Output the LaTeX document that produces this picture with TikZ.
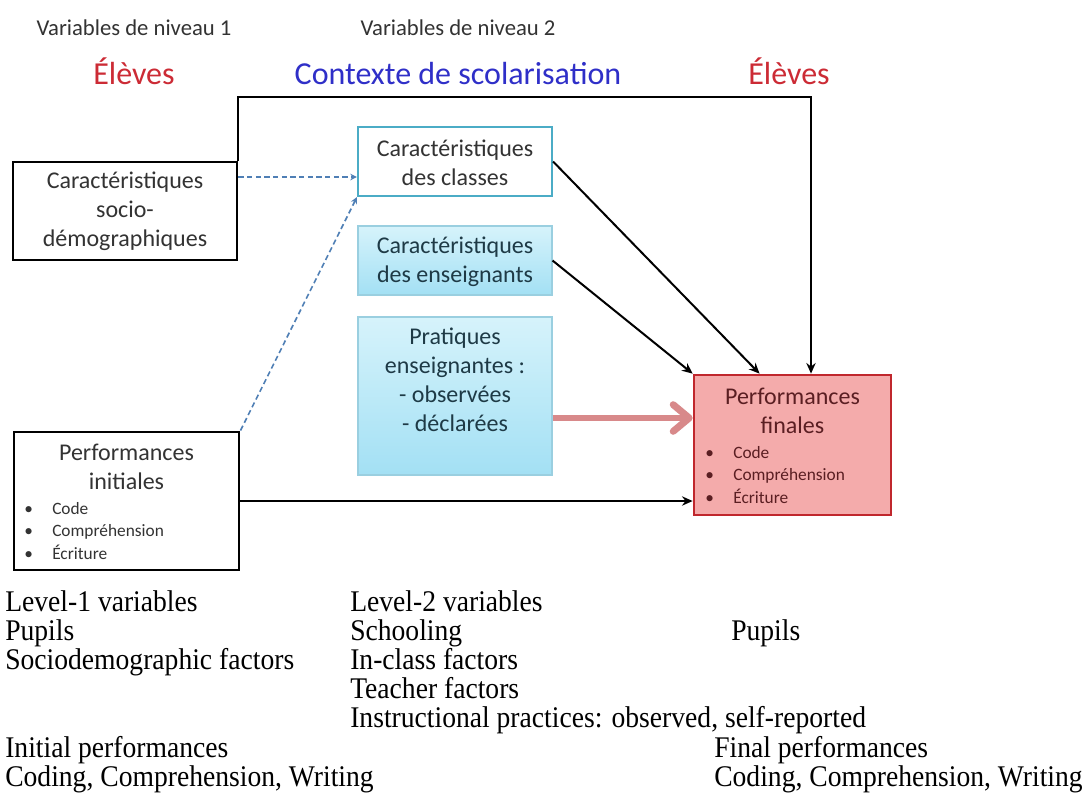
\documentclass[tikz,border=0pt]{standalone}
\usepackage{fontspec}
\setmainfont{Carlito}
\newfontfamily\serifen[FakeStretch=0.92]{Liberation Serif}
\usetikzlibrary{arrows.meta,calc}
\definecolor{txtgray}{HTML}{333333}
\definecolor{teal}{HTML}{4BACC6}
\definecolor{cyantop}{HTML}{D6F3FB}
\definecolor{cyanbot}{HTML}{A3E0F4}
\definecolor{cyanline}{HTML}{9ACFE0}
\definecolor{cyantxt}{HTML}{1E3A46}
\definecolor{finfill}{HTML}{F4ABAB}
\definecolor{finline}{HTML}{C0272D}
\definecolor{fintxt}{HTML}{5A1E22}
\definecolor{redtitle}{HTML}{CC2B35}
\definecolor{bluetitle}{HTML}{2F2FC8}
\definecolor{dashblue}{HTML}{4F7FB5}
\definecolor{redarrow}{HTML}{D8898A}
\begin{document}
\begin{tikzpicture}[x=0.75pt,y=-0.75pt,
  boxfont/.style={font=\fontsize{18}{21.75}\selectfont},
  itemfont/.style={font=\fontsize{13}{16.9}\selectfont},
  blackbox/.style={draw=black,line width=2.2pt,fill=white,inner sep=0pt},
  clsbox/.style={draw=teal,line width=1.6pt,fill=white,inner sep=0pt},
  cyanbox/.style={draw=cyanline,line width=0.8pt,top color=cyantop,bottom color=cyanbot,inner sep=0pt},
  finbox/.style={draw=finline,line width=2pt,fill=finfill,inner sep=0pt},
  blkarrow/.style={draw=black,line width=1.5pt,-{Stealth[length=8pt,width=7pt]}},
  dasharrow/.style={draw=dashblue,line width=1.2pt,dash pattern=on 4pt off 2.5pt,-{Stealth[length=5pt,width=5pt]}},
  redarr/.style={draw=redarrow,line width=5.2pt,-{Straight Barb[length=12pt,width=20pt,round]}},
  lowtxt/.style={anchor=base west,inner sep=0pt,font=\serifen\fontsize{22.5}{24}\selectfont},
  toptxt/.style={anchor=base,inner sep=0pt,text=txtgray,font=\fontsize{17}{20}\selectfont},
  titletxt/.style={anchor=base,inner sep=0pt,font=\fontsize{24}{28}\selectfont}]
\useasboundingbox (0,0) rectangle (1087,794);
\fill[white] (0,0) rectangle (1087,794);

% headings
\node[toptxt] (v1) at (134,35) {Variables de niveau 1};
\node[toptxt] (v2) at (458,35) {Variables de niveau 2};
\node[titletxt,text=redtitle] (el1) at (134,84) {Élèves};
\node[titletxt,text=bluetitle] (ctx) at (458,84) {Contexte de scolarisation};
\node[titletxt,text=redtitle] (el2) at (789,84) {Élèves};

% boxes
\node[blackbox,minimum width=168pt,minimum height=73.5pt] (soc) at (125,211) {};
\node[clsbox,minimum width=145.5pt,minimum height=51.75pt] (cls) at (455,161.5) {};
\node[cyanbox,minimum width=145.5pt,minimum height=51.75pt] (ens) at (455,260.5) {};
\node[cyanbox,minimum width=145.5pt,minimum height=118.5pt] (prat) at (455,396) {};
\node[finbox,minimum width=147.75pt,minimum height=105pt] (fin) at (792.5,445) {};
\node[blackbox,minimum width=168.75pt,minimum height=103.5pt] (ini) at (126.5,501) {};

% box texts
\node[boxfont,align=center,text=txtgray] (soctxt) at (125,211) {Caractéristiques\\socio-\\démographiques};
\node[boxfont,align=center,text=txtgray] (clstxt) at (455,162.5) {Caractéristiques\\des classes};
\node[boxfont,align=center,text=cyantxt] (enstxt) at (455,261.5) {Caractéristiques\\des enseignants};
\node[boxfont,align=center,text=cyantxt] (prattxt) at (455,380) {Pratiques\\enseignantes :\\- observées\\- déclarées};
\node[boxfont,align=center,text=fintxt] (fintxt) at (792.5,411) {Performances\\finales};
\node[itemfont,align=left,anchor=west,text=fintxt,inner sep=0pt] (finlist) at (705,475)
  {\makebox[21pt][l]{•}Code\\\makebox[21pt][l]{•}Compréhension\\\makebox[21pt][l]{•}Écriture};
\node[boxfont,align=center,text=txtgray] (initxt) at (126.5,467) {Performances\\initiales};
\node[itemfont,align=left,anchor=west,text=txtgray,inner sep=0pt] (inilist) at (24,531)
  {\makebox[21pt][l]{•}Code\\\makebox[21pt][l]{•}Compréhension\\\makebox[21pt][l]{•}Écriture};

% connectors
\coordinate (topR) at (811,97);
\coordinate (ydash) at (0,177);
\coordinate (yred) at (0,418);
\draw[blkarrow] (soc.north east) |- (topR) -- (topR |- fin.north);
\draw[dasharrow] (soc.east |- ydash) -- (cls.west |- ydash);
\draw[dasharrow] (ini.north east) -- (cls.south west);
\draw[blkarrow] (cls.east) -- ($(fin.north west)!0.335!(fin.north east)$);
\draw[blkarrow] (ens.east) -- (fin.north west);
\draw[blkarrow] (ini.east) -- (ini.east -| fin.west);
\draw[redarr] (prat.east |- yred) -- (fin.west |- yred);

% English translation
\node[lowtxt] (e11) at (5,611) {Level-1 variables};
\node[lowtxt] (e12) at (5,640.2) {Pupils};
\node[lowtxt] (e13) at (5,669.4) {Sociodemographic factors};
\node[lowtxt] (e16) at (5,757) {Initial performances};
\node[lowtxt] (e17) at (5,786.2) {Coding, Comprehension, Writing};
\node[lowtxt] (e21) at (350,611) {Level-2 variables};
\node[lowtxt] (e22) at (350,640.2) {Schooling};
\node[lowtxt] (e23) at (350,669.4) {In-class factors};
\node[lowtxt] (e24) at (350,698.6) {Teacher factors};
\node[lowtxt] (e25) at (350,727.8) {Instructional practices: observed, self-reported};
\node[lowtxt] (e32) at (731,640.2) {Pupils};
\node[lowtxt] (e36) at (714,757) {Final performances};
\node[lowtxt] (e37) at (714,786.2) {Coding, Comprehension, Writing};
\end{tikzpicture}
\end{document}
